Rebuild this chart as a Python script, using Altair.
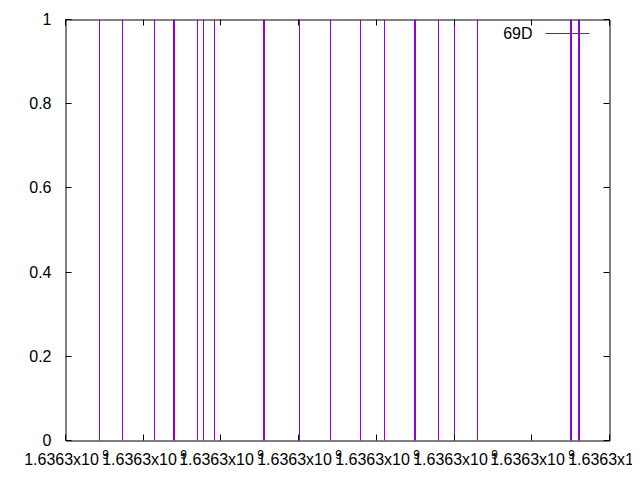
import altair as alt
import pandas as pd

# ---- data ----
series_name = "69D"
times = [1636296441, 1636296737, 1636297149, 1636297392, 1636297405,
         1636297702, 1636297780, 1636297921, 1636298548, 1636298561,
         1636299005, 1636299406, 1636299800, 1636300109, 1636300491,
         1636300504, 1636300804, 1636301002, 1636301305, 1636302498,
         1636302511, 1636302601, 1636302614]
values = [1, 1, 1, 1, 1, 1, 1, 1, 1, 1, 1, 1, 1, 1, 1, 1, 1, 1, 1, 1, 1, 1, 1]
x_ticks = [1636296000, 1636297000, 1636298000, 1636299000,
           1636300000, 1636301000, 1636302000, 1636303000]
x_tick_label = "1.6363x10"
x_tick_sup = "9"
y_ticks = [0, 0.2, 0.4, 0.6, 0.8, 1]
y_tick_labels = ["0", "0.2", "0.4", "0.6", "0.8", "1"]

W, H = 544, 421
PURPLE = "#9400d3"
FONT = "Liberation Sans"
FS = 16
TL = 6

df = pd.DataFrame({"t": times, "v": values, "base": [0] * len(times)})
xt = pd.DataFrame({"xt": x_ticks, "lab": [x_tick_label] * len(x_ticks),
                   "sup": [x_tick_sup] * len(x_ticks)})
yt = pd.DataFrame({"yt": y_ticks, "lab": y_tick_labels})
leg = pd.DataFrame({"name": [series_name]})

xscale = alt.Scale(domain=[x_ticks[0], x_ticks[-1]], nice=False, zero=False, round=True)
yscale = alt.Scale(domain=[0, 1], nice=False, round=True)

impulses = alt.Chart(df).mark_rule(color=PURPLE, strokeWidth=1).encode(
    x=alt.X("t:Q", scale=xscale, axis=None),
    y=alt.Y("base:Q", scale=yscale, axis=None),
    y2="v:Q",
)

tick_b = alt.Chart(xt).mark_rule(color="black").encode(
    x=alt.X("xt:Q", scale=xscale, axis=None), y=alt.value(H), y2=alt.value(H - TL))
tick_t = alt.Chart(xt).mark_rule(color="black").encode(
    x=alt.X("xt:Q", scale=xscale, axis=None), y=alt.value(0), y2=alt.value(TL))
tick_l = alt.Chart(yt).mark_rule(color="black").encode(
    y=alt.Y("yt:Q", scale=yscale, axis=None), x=alt.value(0), x2=alt.value(TL))
tick_r = alt.Chart(yt).mark_rule(color="black").encode(
    y=alt.Y("yt:Q", scale=yscale, axis=None), x=alt.value(W), x2=alt.value(W - TL))

xlab = alt.Chart(xt).mark_text(font=FONT, fontSize=FS, color="black", dx=-4,
                               baseline="top", align="center").encode(
    x=alt.X("xt:Q", scale=xscale, axis=None), y=alt.value(H + 11), text="lab:N")
sup = alt.Chart(xt).mark_text(font=FONT, fontSize=12, color="black", dx=40,
                              baseline="alphabetic", align="center").encode(
    x=alt.X("xt:Q", scale=xscale, axis=None), y=alt.value(H + 18), text="sup:N")
ylab = alt.Chart(yt).mark_text(font=FONT, fontSize=FS, color="black",
                               baseline="middle", align="right").encode(
    y=alt.Y("yt:Q", scale=yscale, axis=None), x=alt.value(-14), text="lab:N")

leg_text = alt.Chart(leg).mark_text(font=FONT, fontSize=FS, color="black",
                                    align="right", baseline="middle").encode(
    x=alt.value(467), y=alt.value(14), text="name:N")
leg_line = alt.Chart(leg).mark_rule(color=PURPLE, strokeWidth=1).encode(
    x=alt.value(480), x2=alt.value(524), y=alt.value(14))

chart = alt.layer(impulses, tick_b, tick_t, tick_l, tick_r, xlab, sup, ylab,
                  leg_text, leg_line).properties(
    width=W, height=H,
    autosize=alt.AutoSizeParams(type="none"),
    padding={"left": 57.5, "top": 11.5, "right": 22, "bottom": 31},
    background="white",
).configure_view(stroke="black", strokeWidth=1)

chart.save("out.html", embed_options={"renderer": "svg", "actions": False})
